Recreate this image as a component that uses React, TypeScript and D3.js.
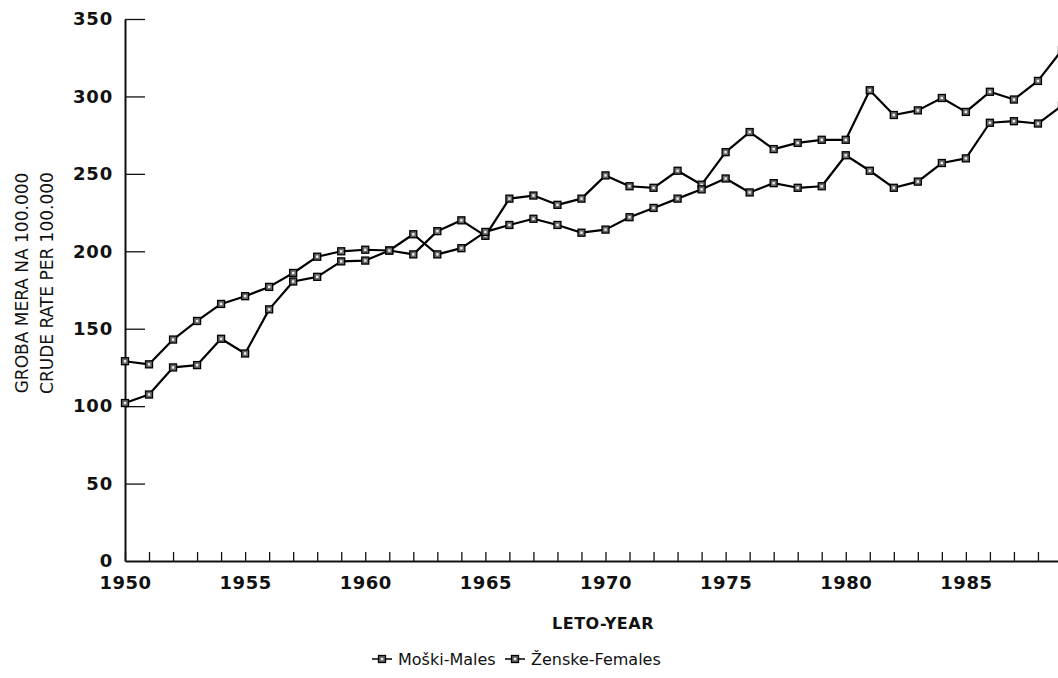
import React, { useRef, useEffect } from 'react';
import * as d3 from 'd3';

// data
const years = [1950, 1951, 1952, 1953, 1954, 1955, 1956, 1957, 1958, 1959,
    1960, 1961, 1962, 1963, 1964, 1965, 1966, 1967, 1968, 1969,
    1970, 1971, 1972, 1973, 1974, 1975, 1976, 1977, 1978, 1979,
    1980, 1981, 1982, 1983, 1984, 1985, 1986, 1987, 1988, 1989];

const males = [102, 107.5, 125, 126.5, 143.5, 134, 162.5, 180.5, 183.5, 193.5,
    194, 200.5, 198, 213, 220, 210, 234, 236, 230, 234,
    249, 242, 241, 252, 243, 264, 277, 266, 270, 272,
    272, 304, 288, 291, 299, 290, 303, 298, 310, 330];

const females = [129, 127, 143, 155, 166, 171, 177, 186, 196.5, 200,
    201, 200.5, 211, 198, 202, 212.5, 217, 221, 217, 212,
    214, 222, 228, 234, 240, 247, 238, 244, 241, 242,
    262, 252, 241, 245, 257, 260, 283, 284, 282.5, 294];

const yTicks = [0, 50, 100, 150, 200, 250, 300, 350];
const xLabels = [1950, 1955, 1960, 1965, 1970, 1975, 1980, 1985];
const seriesNames = ['Moški-Males', 'Ženske-Females'];

const FONT = '"DejaVu Sans", sans-serif';

export default function App() {
    const ref = useRef<SVGSVGElement>(null);

    useEffect(() => {
        const svg = d3.select(ref.current);
        svg.selectAll('*').remove();

        // plot box
        const x = d3.scaleLinear().domain([1950, 1990]).range([125, 1086]);
        const y = d3.scaleLinear().domain([0, 350]).range([561, 19]);

        // y axis
        const yAxis = svg.append('g')
            .attr('transform', 'translate(125,0)')
            .call(d3.axisLeft(y).tickValues(yTicks).tickSizeInner(-20).tickSizeOuter(0).tickPadding(12));
        yAxis.select('.domain').attr('stroke', '#111').attr('stroke-width', 2);
        yAxis.selectAll('.tick line').attr('stroke', '#111').attr('stroke-width', 1.3);
        yAxis.selectAll('.tick').filter((d) => d === 0).select('line').remove();
        yAxis.selectAll('text')
            .attr('font-family', FONT).attr('font-size', 18).attr('font-weight', 'bold')
            .attr('letter-spacing', 0.8).attr('fill', '#111');

        // x axis, a tick for each year, labels every 5
        const xAxis = svg.append('g')
            .attr('transform', 'translate(0,561)')
            .call(d3.axisBottom(x).tickValues(years.concat([1990]))
                .tickSizeInner(-9).tickSizeOuter(0).tickPadding(15)
                .tickFormat((d) => xLabels.includes(d as number) ? String(d) : ''));
        xAxis.select('.domain').attr('stroke', '#111').attr('stroke-width', 2);
        xAxis.selectAll('.tick line').attr('stroke', '#111').attr('stroke-width', 1.3);
        xAxis.selectAll('text')
            .attr('font-family', FONT).attr('font-size', 18).attr('font-weight', 'bold')
            .attr('letter-spacing', 0.5).attr('fill', '#111');

        // axis titles
        svg.append('text')
            .attr('transform', 'translate(603,629)')
            .attr('text-anchor', 'middle')
            .attr('font-family', FONT).attr('font-size', 16).attr('font-weight', 'bold')
            .attr('letter-spacing', 0.5).attr('fill', '#111')
            .text('LETO-YEAR');

        const yTitle = ['GROBA MERA NA 100.000', 'CRUDE RATE PER 100.000'];
        svg.selectAll('.ytitle')
            .data(yTitle)
            .enter()
            .append('text')
            .attr('transform', (d, i) => 'translate(' + (28 + i * 25) + ',283) rotate(-90)')
            .attr('text-anchor', 'middle')
            .attr('font-family', FONT).attr('font-size', 17)
            .attr('fill', '#111')
            .text((d) => d);

        const line = d3.line<number>()
            .x((d, i) => x(years[i]))
            .y((d) => y(d));

        const drawMarker = (g, cx, cy) => {
            g.append('rect')
                .attr('x', cx - 3.5).attr('y', cy - 3.5)
                .attr('width', 7).attr('height', 7)
                .attr('fill', '#666').attr('stroke', '#000').attr('stroke-width', 1.3);
            g.append('rect')
                .attr('x', cx - 1.2).attr('y', cy - 1.2)
                .attr('width', 2.4).attr('height', 2.4)
                .attr('fill', '#eee');
        };

        [males, females].forEach((s) => {
            svg.append('path')
                .datum(s)
                .attr('d', line)
                .attr('fill', 'none')
                .attr('stroke', '#000')
                .attr('stroke-width', 2.2)
                .attr('stroke-linejoin', 'round');
            const g = svg.append('g');
            s.forEach((v, i) => drawMarker(g, x(years[i]), y(v)));
        });

        // legend
        const legendX = [372, 505];
        seriesNames.forEach((name, i) => {
            const g = svg.append('g');
            g.append('line')
                .attr('x1', legendX[i]).attr('x2', legendX[i] + 20)
                .attr('y1', 659).attr('y2', 659)
                .attr('stroke', '#000').attr('stroke-width', 1.5);
            drawMarker(g, legendX[i] + 10, 659);
            g.append('text')
                .attr('x', legendX[i] + 26).attr('y', 665)
                .attr('font-family', FONT).attr('font-size', 16)
                .attr('fill', '#111')
                .text(name);
        });
    }, []);

    return (
        <div style={{ position: 'absolute', left: 0, top: 0 }}>
            <svg ref={ref} width={1058} height={678} style={{ display: 'block', background: '#fff' }} />
        </div>
    );
}
